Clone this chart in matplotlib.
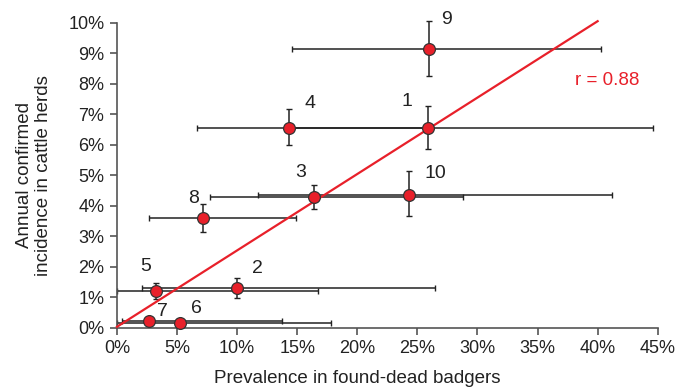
import numpy as np
import matplotlib
matplotlib.use("Agg")
import matplotlib.pyplot as plt
from matplotlib.ticker import FuncFormatter

plt.rcParams['font.family'] = ['Liberation Sans', 'DejaVu Sans']

# data (percent)
labels = ['1', '2', '3', '4', '5', '6', '7', '8', '9', '10']
badger = [25.85, 9.98, 16.36, 14.28, 3.27, 5.27, 2.66, 7.18, 25.96, 24.3]
badger_lo = [14.28, 2.05, 7.77, 6.7, 0.0, 0.0, 0.4, 2.66, 14.6, 11.73]
badger_hi = [44.6, 26.5, 28.8, 25.85, 16.75, 17.8, 13.7, 14.9, 40.3, 41.2]
cattle = [6.55, 1.30, 4.30, 6.56, 1.19, 0.16, 0.23, 3.59, 9.14, 4.36]
cattle_lo = [5.87, 0.98, 3.88, 5.99, 0.93, 0.10, 0.18, 3.14, 8.24, 3.67]
cattle_hi = [7.27, 1.64, 4.69, 7.16, 1.48, 0.22, 0.28, 4.06, 10.07, 5.13]
fit_x = [0.0, 40.0]
fit_y = [0.03, 10.05]
# label offsets in pixels
label_dx = [-21, 21, -13, 21, -11, 16, 13, -10, 18, 26]
label_dy = [26, 20, 24, 24, 25, 14, 9, 20, 29, 21]

x = np.array(badger)
y = np.array(cattle)
xerr = [x - np.array(badger_lo), np.array(badger_hi) - x]
yerr = [y - np.array(cattle_lo), np.array(cattle_hi) - y]

fig = plt.figure(figsize=(6.75, 3.87), dpi=100)
ax = fig.add_axes([0.1733, 0.1532, 0.8011, 0.7881])

eb = ax.errorbar(x, y, xerr=xerr, yerr=yerr, fmt='none', ecolor='#222222',
                 elinewidth=1.1, capsize=2.5, capthick=1.0, zorder=2)
for art in eb.lines[1] + eb.lines[2]:
    art.set_clip_on(False)
ax.plot(fit_x, fit_y, color='#e8202a', lw=1.6, zorder=3, clip_on=False)
ax.plot(x, y, 'o', ms=8.5, mfc='#e8202a', mec='#333333', mew=0.9, zorder=4,
        clip_on=False)

for lab, xi, yi, dx, dy in zip(labels, x, y, label_dx, label_dy):
    ax.annotate(lab, (xi, yi), xytext=(dx, dy), textcoords='offset pixels',
                ha='center', va='center', fontsize=14, color='#222222')

ax.text(38.1, 8.12, 'r = 0.88', color='#e8202a', fontsize=13.5, ha='left', va='center')

ax.set_xlim(0, 45)
ax.set_ylim(0, 10)
ax.set_xticks(np.arange(0, 46, 5))
ax.set_yticks(np.arange(0, 11, 1))
pct = FuncFormatter(lambda v, p: '%d%%' % round(v))
ax.xaxis.set_major_formatter(pct)
ax.yaxis.set_major_formatter(pct)

for s in ['top', 'right']:
    ax.spines[s].set_visible(False)
for s in ['left', 'bottom']:
    ax.spines[s].set_color('#555555')
    ax.spines[s].set_linewidth(1.2)
ax.tick_params(direction='out', length=5, width=1.2, color='#555555',
               labelsize=13, labelcolor='#222222', pad=4)

ax.set_xlabel('Prevalence in found-dead badgers', fontsize=13.5, color='#222222')
ax.xaxis.set_label_coords(0.444, -0.138)
ax.set_ylabel('Annual confirmed\nincidence in cattle herds', fontsize=13.5, color='#222222',
              labelpad=12, linespacing=1.15)

fig.savefig('out.png', dpi=100)
